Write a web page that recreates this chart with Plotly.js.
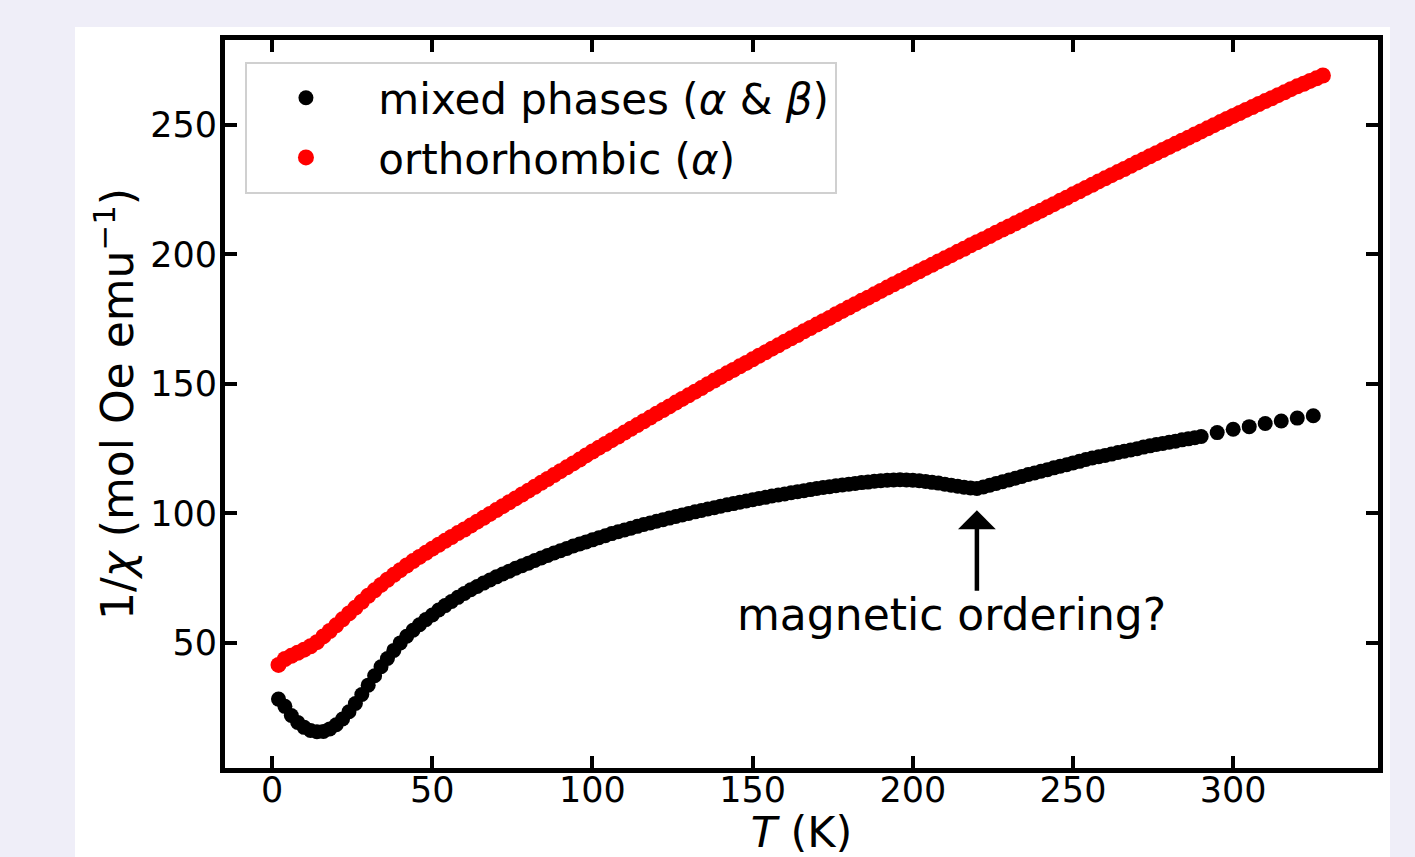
<!DOCTYPE html>
<html>
<head>
<meta charset="utf-8">
<script src="https://cdn.plot.ly/plotly-3.0.1.min.js"></script>
<style>html,body{margin:0;padding:0;background:#efeef8;}</style>
</head>
<body>
<div id="chart" style="width:1415px;height:857px;"></div>
<script>
// Temperature grid (K) for dense measurements
const tempGrid = [
  2,4,6,8,10,12,14,16,18,20,
  22,24,26,28,30,32,34,36,38,40,
  42,44,46,48,50,52,54,56,58,60,
  62,64,66,68,70,72,74,76,78,80,
  82,84,86,88,90,92,94,96,98,100,
  102,104,106,108,110,112,114,116,118,120,
  122,124,126,128,130,132,134,136,138,140,
  142,144,146,148,150,152,154,156,158,160,
  162,164,166,168,170,172,174,176,178,180,
  182,184,186,188,190,192,194,196,198,200,
  202,204,206,208,210,212,214,216,218,220,
  222,224,226,228,230,232,234,236,238,240,
  242,244,246,248,250,252,254,256,258,260,
  262,264,266,268,270,272,274,276,278,280,
  282,284,286,288,290,292,294,296,298,300,
  302,304,306,308,310,312,314,316,318,320,
  322,324,326,328
];

// Mixed phases (alpha & beta): dense part (T = 2..290 K)
const mixedDense = [
  28.3,25.5,22.0,19.3,17.4,16.2,15.7,15.8,16.8,18.4,
  20.6,23.4,26.6,30.1,33.7,37.3,40.8,44.0,47.1,50.0,
  52.6,54.9,57.0,59.0,60.8,62.7,64.4,66.0,67.6,69.1,
  70.5,71.8,73.1,74.3,75.5,76.6,77.7,78.8,79.8,80.8,
  81.8,82.8,83.8,84.7,85.6,86.5,87.4,88.2,89.0,89.8,
  90.6,91.4,92.2,92.9,93.6,94.3,95.0,95.7,96.3,97.0,
  97.6,98.2,98.8,99.4,100.0,100.6,101.1,101.7,102.2,102.8,
  103.3,103.8,104.3,104.8,105.3,105.8,106.2,106.7,107.1,107.5,
  108.0,108.4,108.8,109.2,109.6,110.0,110.3,110.7,111.0,111.3,
  111.6,111.9,112.1,112.4,112.6,112.8,112.9,113.0,112.9,112.8,
  112.6,112.3,112.0,111.7,111.3,110.9,110.5,110.1,109.8,109.6,
  110.2,110.9,111.6,112.2,112.9,113.6,114.3,115.0,115.6,116.3,
  116.9,117.6,118.2,118.8,119.5,120.1,120.8,121.4,121.9,122.4,
  122.9,123.5,124.0,124.5,125.0,125.6,126.1,126.6,127.0,127.5,
  127.9,128.4,128.8,129.2,129.7
];
// Mixed phases: sparse high-temperature points
const mixedSparseT = [295,300,305,310,315,320,325];
const mixedSparse  = [131.2,132.5,133.5,134.7,135.7,136.8,137.7];

// Orthorhombic (alpha): T = 2..328 K
const orthoVals = [
  41.5,43.8,45.0,46.2,47.4,48.7,50.3,52.5,54.6,56.8,
  59.1,61.4,63.6,65.9,68.2,70.3,72.4,74.4,76.3,78.1,
  79.9,81.6,83.2,84.8,86.4,87.9,89.4,90.9,92.4,93.8,
  95.3,96.8,98.3,99.8,101.3,102.8,104.3,105.8,107.3,108.8,
  110.3,111.8,113.3,114.8,116.3,117.8,119.3,120.8,122.4,123.9,
  125.4,126.8,128.3,129.7,131.2,132.7,134.1,135.6,137.0,138.5,
  139.9,141.3,142.8,144.2,145.6,147.0,148.4,149.9,151.3,152.7,
  154.1,155.4,156.8,158.1,159.5,160.9,162.2,163.6,164.9,166.3,
  167.6,168.9,170.3,171.6,172.9,174.2,175.5,176.9,178.2,179.5,
  180.8,182.1,183.3,184.6,185.9,187.2,188.5,189.7,191.0,192.3,
  193.5,194.8,196.0,197.3,198.5,199.7,201.0,202.2,203.5,204.7,
  205.9,207.1,208.4,209.6,210.8,212.0,213.2,214.5,215.7,216.9,
  218.2,219.4,220.7,221.9,223.2,224.4,225.7,226.9,228.2,229.4,
  230.6,231.8,233.0,234.2,235.5,236.7,237.9,239.1,240.3,241.5,
  242.7,243.9,245.1,246.3,247.5,248.7,249.9,251.1,252.3,253.5,
  254.6,255.8,256.9,258.1,259.2,260.3,261.5,262.6,263.8,264.9,
  265.9,267.0,268.0,269.1
];

const tickValsX = [0,50,100,150,200,250,300];
const tickValsY = [50,100,150,200,250];
const seriesNames = ['mixed phases (<i>α</i> &amp; <i>β</i>)', 'orthorhombic (<i>α</i>)'];
const annotText = 'magnetic ordering?';
const annotT = 220;       // K, position of the anomaly
const annotArrowTip = 101.2;
const annotTextY = 60.8;
const annotTextX = 212;

const FONT = 'DejaVu Sans, sans-serif';

const mixedT = tempGrid.slice(0, mixedDense.length).concat(mixedSparseT);
const mixedY = mixedDense.concat(mixedSparse);
const orthoT = tempGrid.slice(0, orthoVals.length);

const traces = [
  {
    x: mixedT, y: mixedY, type: 'scatter', mode: 'markers',
    name: '\u00a0' + seriesNames[0], legendgroup: 'a',
    marker: {color: '#000000', size: 15, line: {width: 0}}
  },
  {
    x: orthoT, y: orthoVals, type: 'scatter', mode: 'markers',
    name: '\u00a0' + seriesNames[1], legendgroup: 'b',
    marker: {color: '#ff0000', size: 16, line: {width: 0}}
  }
];

const axisCommon = {
  showgrid: false, zeroline: false,
  showline: true, linecolor: '#000', linewidth: 5, mirror: 'allticks',
  ticks: 'inside', ticklen: 12, tickwidth: 4, tickcolor: '#000',
  tickfont: {family: FONT, size: 35, color: '#000'}
};

const layout = {
  width: 1415, height: 857,
  paper_bgcolor: '#efeef8', plot_bgcolor: '#ffffff',
  margin: {l: 225, r: 37, t: 40, b: 89, pad: 0},
  font: {family: FONT, color: '#000'},
  showlegend: true,
  legend: {
    x: 0.0173, y: 0.9698, xanchor: 'left', yanchor: 'top',
    bgcolor: '#ffffff', bordercolor: '#d0d0d0', borderwidth: 2,
    font: {family: FONT, size: 42, color: '#000'},
    itemwidth: 108, tracegroupgap: 2
  },
  xaxis: Object.assign({}, axisCommon, {
    range: [-14.7, 345.2], tickmode: 'array', tickvals: tickValsX,
    ticklabelstandoff: -13,
    title: {text: '<i>T</i> (K)', font: {family: FONT, size: 43, color: '#000'}, standoff: 19}
  }),
  yaxis: Object.assign({}, axisCommon, {
    range: [1.7, 282.8], tickmode: 'array', tickvals: tickValsY,
    ticklabelstandoff: -4,
    title: {text: '1/<i>χ</i> (mol Oe emu<sup>−1</sup>)', font: {family: FONT, size: 44, color: '#000'}, standoff: 4}
  }),
  shapes: [{
    type: 'rect', xref: 'paper', yref: 'paper', layer: 'below',
    x0: -0.1301, x1: 1.0104, y0: -0.3, y1: 1.0179,
    fillcolor: '#ffffff', line: {width: 0}
  }],
  annotations: [
    {
      x: annotT, y: annotArrowTip, xref: 'x', yref: 'y', text: '',
      showarrow: true, arrowhead: 1, arrowsize: 1.4, arrowwidth: 4.5, arrowcolor: '#000',
      ax: 0, ay: 82, standoff: 0
    },
    {
      x: annotTextX, y: annotTextY, xref: 'x', yref: 'y', text: annotText,
      showarrow: false, xanchor: 'center', yanchor: 'middle',
      font: {family: FONT, size: 44, color: '#000'}
    }
  ]
};

Plotly.newPlot('chart', traces, layout, {displayModeBar: false, staticPlot: true});
</script>
</body>
</html>
